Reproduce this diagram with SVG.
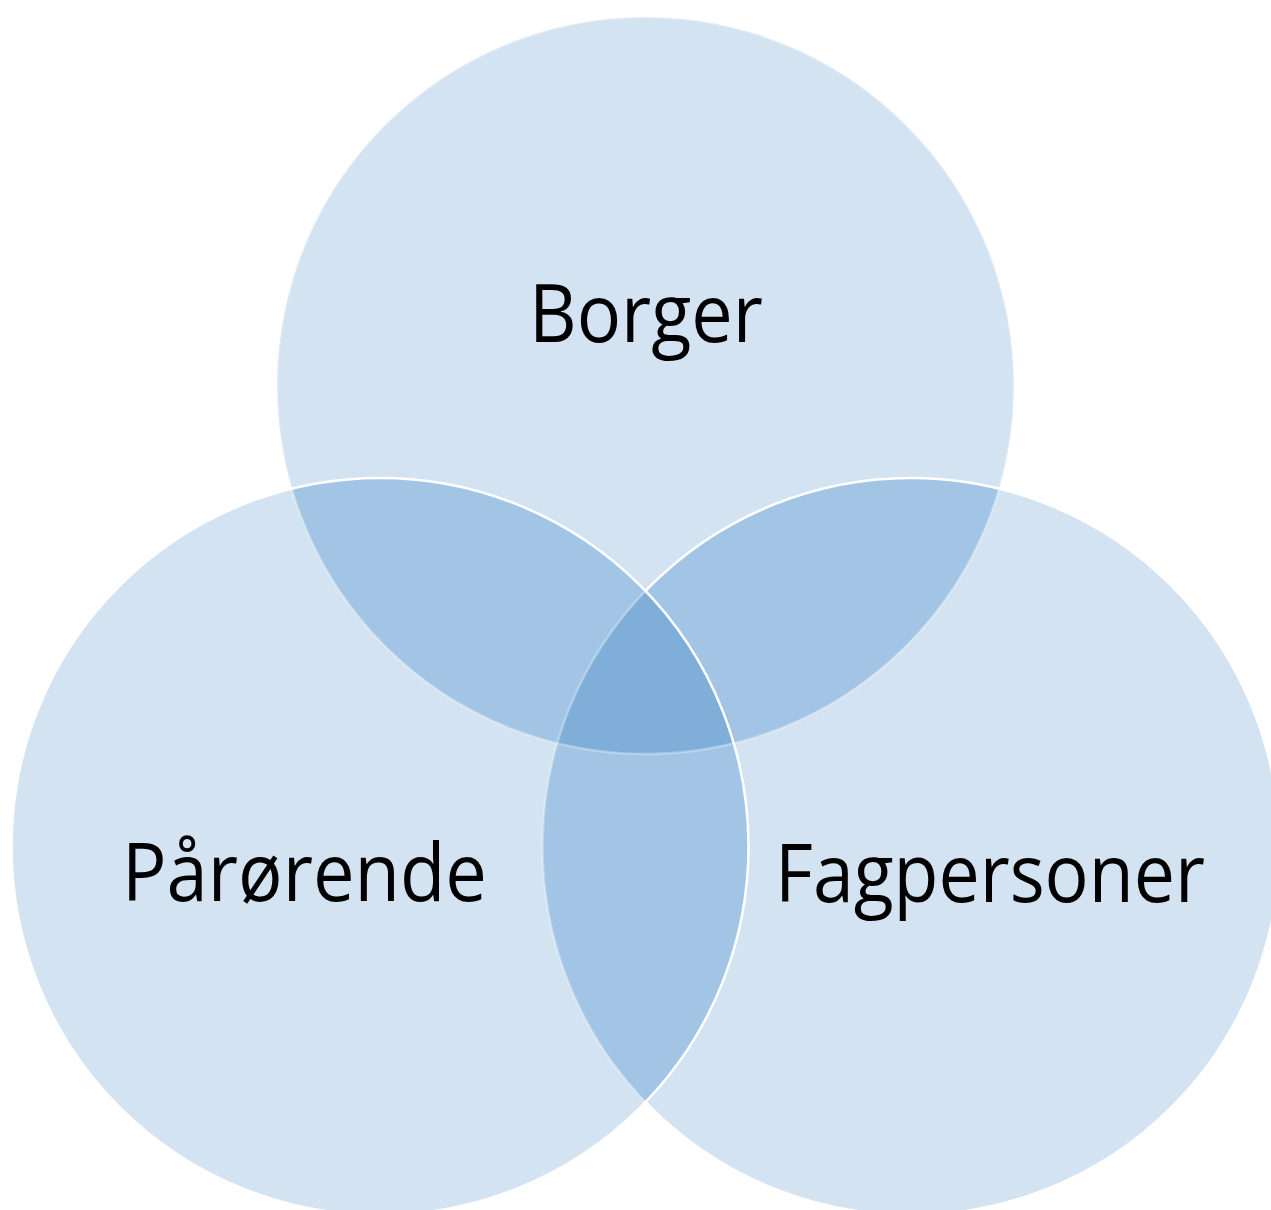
<svg xmlns="http://www.w3.org/2000/svg" xmlns:xlink="http://www.w3.org/1999/xlink" width="1271" height="1210" viewBox="0 0 1271 1210">
<style>
.single{fill:#d4e3f2}
.double{fill:#a2c5e5}
.triple{fill:#7faed9}
.edge{fill:none;stroke:#ffffff;stroke-width:2.5}
.faint{fill:none;stroke:#ffffff;stroke-width:2.5;stroke-opacity:0.3}
.label{font-family:"Open Sans","Noto Sans","Liberation Sans",sans-serif;font-size:80px;fill:#000000;text-anchor:middle}
</style>
<defs>
<circle id="T" cx="645.5" cy="385.5" r="368.5"/>
<circle id="L" cx="380" cy="846.5" r="368.5"/>
<circle id="R" cx="911" cy="846.5" r="368.5"/>
<clipPath id="cT"><use xlink:href="#T"/></clipPath>
<clipPath id="cL"><use xlink:href="#L"/></clipPath>
<clipPath id="cR"><use xlink:href="#R"/></clipPath>
<clipPath id="cTR" clip-path="url(#cR)"><use xlink:href="#T"/></clipPath>
<clipPath id="outL"><path clip-rule="evenodd" d="M0 0H1271V1210H0Z M11.5 846.5a368.5 368.5 0 1 0 737 0a368.5 368.5 0 1 0 -737 0Z"/></clipPath>
</defs>
<g id="node-borger">
<use xlink:href="#T" class="single"/>
</g>
<g id="node-fagpersoner">
<use xlink:href="#R" class="single"/>
<use xlink:href="#R" class="double" clip-path="url(#cT)"/>
</g>
<g id="node-parorende">
<use xlink:href="#L" class="single"/>
<use xlink:href="#L" class="double" clip-path="url(#cT)"/>
<use xlink:href="#L" class="double" clip-path="url(#cR)"/>
<use xlink:href="#L" class="triple" clip-path="url(#cTR)"/>
</g>
<g id="edges">
<use xlink:href="#T" class="faint"/>
<use xlink:href="#R" class="edge" clip-path="url(#outL)"/>
<use xlink:href="#R" class="faint" clip-path="url(#cL)"/>
<use xlink:href="#L" class="edge"/>
</g>
<g id="labels">
<text class="label" x="646" y="342" textLength="234" lengthAdjust="spacingAndGlyphs">Borger</text>
<text class="label" x="304.5" y="901" textLength="365" lengthAdjust="spacingAndGlyphs">Pårørende</text>
<text class="label" x="990" y="902" textLength="430" lengthAdjust="spacingAndGlyphs">Fagpersoner</text>
</g>
</svg>
